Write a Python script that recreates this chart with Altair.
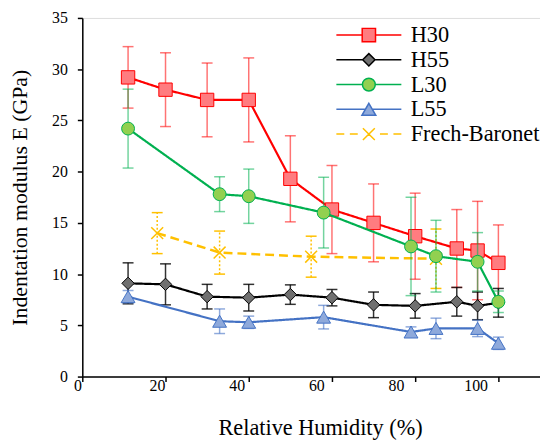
import altair as alt
import pandas as pd

# ---------------- data ----------------
SERIES = ["H30", "H55", "L30", "L55", "Frech-Baronet"]

X_H = [11, 20, 30, 40, 50, 60, 70, 80, 90, 95, 100]
H30 = [29.2, 28.0, 27.0, 27.0, 19.3, 16.3, 15.0, 13.7, 12.5, 12.3, 11.1]
H30_ERR = [3.0, 3.6, 3.6, 4.1, 4.2, 4.3, 3.8, 4.2, 3.8, 4.8, 3.7]
H55 = [9.1, 9.0, 7.8, 7.7, 8.0, 7.7, 7.0, 6.9, 7.3, 6.9, 7.2]
H55_ERR = [2.0, 2.0, 1.2, 1.3, 0.95, 0.8, 1.25, 1.2, 1.4, 1.35, 1.4]

X_L = [11, 33, 40, 58, 79, 85, 95, 100]
L30 = [24.2, 17.8, 17.6, 16.0, 12.7, 11.75, 11.2, 7.3]
L30_ERR = [3.85, 1.7, 2.65, 3.45, 4.8, 3.5, 2.85, 1.05]
L55 = [7.8, 5.4, 5.3, 5.8, 4.35, 4.7, 4.7, 3.25]
L55_ERR = [0.6, 1.2, 0.6, 1.15, 0.5, 1.0, 0.8, 0.6]

X_FB = [18, 33, 55, 85]
FB = [14.0, 12.1, 11.7, 11.5]
FB_ERR = [2.0, 2.1, 2.0, 2.9]

X_TICKS = [0, 20, 40, 60, 80, 100]
Y_TICKS = [0, 5, 10, 15, 20, 25, 30, 35]

# ---------------- styles ----------------
FONT = "Liberation Serif, Times New Roman, serif"
LINE_COL = {"H30": "#FF0000", "H55": "#000000", "L30": "#00B050", "L55": "#4472C4", "Frech-Baronet": "#FFC000"}
FILL_COL = {"H30": "#FF7C80", "H55": "#707070", "L30": "#92D050", "L55": "#8EA9DB", "Frech-Baronet": "transparent"}
ERR_OPA = {"H30": 0.55, "H55": 0.8, "L30": 0.55, "L55": 0.6, "Frech-Baronet": 1.0}
XPATH = "M-1,-1L1,1M-1,1L1,-1"
SHAPE = {"H30": ("square", 182), "H55": ("diamond", 156), "L30": ("circle", 169),
         "L55": ("triangle-up", 196), "Frech-Baronet": (XPATH, 144)}

# legend glyphs: line + marker as one custom path (units scaled by 8 px)
LEG_PATH = {
    "H30": "M-4.1,0H-0.84M0.84,0H4.1M-0.84,-0.84H0.84V0.84H-0.84Z",
    "H55": "M-4.1,0H-0.78M0.78,0H4.1M-0.78,0L0,-0.78L0.78,0L0,0.78Z",
    "L30": "M-4.1,0H-0.81M0.81,0H4.1M-0.81,0A0.81,0.81,0,1,1,0.81,0A0.81,0.81,0,1,1,-0.81,0Z",
    "L55": "M-4.1,0H-0.44M0.44,0H4.1M0,-0.76L0.875,0.76L-0.875,0.76Z",
    "Frech-Baronet": "M-4.1,0H-3.1M-2.4,0H-1.4M1.4,0H2.4M3.1,0H4.1M-0.75,-0.75L0.75,0.75M-0.75,0.75L0.75,-0.75",
}

frames = []
for name, xv, yv, ev in [("H30", X_H, H30, H30_ERR), ("H55", X_H, H55, H55_ERR),
                         ("L30", X_L, L30, L30_ERR), ("L55", X_L, L55, L55_ERR),
                         ("Frech-Baronet", X_FB, FB, FB_ERR)]:
    d = pd.DataFrame({"x": xv, "y": yv, "err": ev})
    d["lo"] = d["y"] - d["err"]
    d["hi"] = d["y"] + d["err"]
    d["series"] = name
    frames.append(d)
data = pd.concat(frames, ignore_index=True)

xs = alt.Scale(domain=[0, 110], nice=False, zero=False)
ys = alt.Scale(domain=[0, 35], nice=False)
# the reference's tick labels sit slightly left of its tick marks
xs_labels = alt.Scale(domain=[0, 110], range=[-5, 437.2], nice=False, zero=False)

x_axis = alt.Axis(values=X_TICKS, title="Relative Humidity (%)", grid=False, labels=False,
                  titleFont=FONT, titleFontSize=22.5, titleFontWeight="normal", titleColor="black",
                  titleX=240, titleY=58, titleBaseline="alphabetic", titleAlign="center",
                  tickSize=5, tickColor="black", tickWidth=1.5,
                  domainColor="black", domainWidth=1.5, orient="bottom")
x_label_axis = alt.Axis(values=X_TICKS, title=None, grid=False, ticks=False, domain=False,
                        labelFont=FONT, labelFontSize=16, labelColor="black", labelPadding=1,
                        labelFlush=False, orient="bottom")
y_axis = alt.Axis(values=Y_TICKS, title="Indentation modulus E (GPa)", grid=False,
                  titleFont=FONT, titleFontSize=22, titleFontWeight="normal", titleColor="black",
                  titleX=-63, titleY=181, titleAngle=270, titleBaseline="middle", titleAlign="center",
                  labelFont=FONT, labelFontSize=16, labelColor="black", labelPadding=10,
                  tickSize=5, tickColor="black", tickWidth=1.5,
                  domainColor="black", domainWidth=1.5)


def X(f="x"):
    return alt.X(f + ":Q", scale=xs, axis=x_axis)


def Y(f="y"):
    return alt.Y(f + ":Q", scale=ys, axis=y_axis)


layers = []
for name in ["Frech-Baronet", "H30", "H55", "L30", "L55"]:
    base = alt.Chart(data).transform_filter(alt.datum.series == name)
    col = LINE_COL[name]
    dash = [2, 2] if name == "Frech-Baronet" else [1, 0]
    rule = base.mark_rule(color=col, opacity=ERR_OPA[name], strokeWidth=1.5, strokeDash=dash).encode(
        x=X(), y=Y("lo"), y2="hi:Q")
    cap_lo = base.mark_tick(orient="horizontal", color=col, opacity=ERR_OPA[name], size=11,
                            thickness=1.5, strokeDash=dash).encode(x=X(), y=Y("lo"))
    cap_hi = base.mark_tick(orient="horizontal", color=col, opacity=ERR_OPA[name], size=11,
                            thickness=1.5, strokeDash=dash).encode(x=X(), y=Y("hi"))
    line_dash = [9, 5] if name == "Frech-Baronet" else [1, 0]
    line = base.mark_line(color=col, strokeWidth=2.2 if name != "Frech-Baronet" else 2.5,
                          strokeDash=line_dash).encode(x=X(), y=Y(), order="x:Q")
    shp, sz = SHAPE[name]
    if name == "Frech-Baronet":
        pts = base.mark_point(shape=shp, size=sz, filled=False, stroke=col, strokeWidth=1.5,
                              opacity=1).encode(x=X(), y=Y())
    else:
        pts = base.mark_point(shape=shp, size=sz, filled=True, fill=FILL_COL[name], stroke=col,
                              strokeWidth=1, opacity=1, fillOpacity=1).encode(x=X(), y=Y())
    layers += [rule, cap_lo, cap_hi, line, pts]

legend = alt.Legend(title=None, orient="none", legendX=278, legendY=6, direction="vertical",
                    symbolSize=256, symbolStrokeWidth=1.5, symbolOpacity=1,
                    labelFont=FONT, labelFontSize=22.5, labelColor="black", labelOffset=31,
                    symbolOffset=0, rowPadding=2, padding=0, labelLimit=400)
leg_layer = alt.Chart(data).mark_point(opacity=0, size=10).encode(
    x=X(), y=Y(),
    fill=alt.Fill("series:N", scale=alt.Scale(domain=SERIES, range=[FILL_COL[s] for s in SERIES]), legend=legend),
    stroke=alt.Stroke("series:N", scale=alt.Scale(domain=SERIES, range=[LINE_COL[s] for s in SERIES]), legend=legend),
    shape=alt.Shape("series:N", scale=alt.Scale(domain=SERIES, range=[LEG_PATH[s] for s in SERIES]), legend=legend),
)

main = alt.layer(*layers, leg_layer)

tick_labels = alt.Chart(pd.DataFrame({"v": X_TICKS})).mark_point(opacity=0, size=1).encode(
    x=alt.X("v:Q", scale=xs_labels, axis=x_label_axis),
    y=alt.value(0),
)

chart = alt.layer(main, tick_labels).resolve_scale(x="independent").resolve_axis(x="independent").properties(
    width=462, height=362,
    autosize=alt.AutoSizeParams(type="none"),
    padding={"left": 75, "top": 8, "right": 0, "bottom": 63},
).configure_view(stroke=None).configure(font=FONT)

chart.save("out.html", embed_options={"renderer": "svg", "actions": False})
